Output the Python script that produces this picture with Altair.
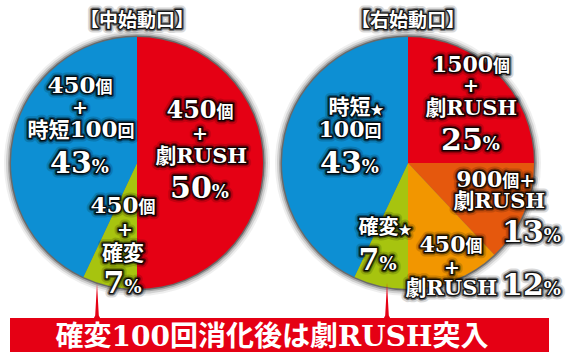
import altair as alt
import pandas as pd

# ---------------- data ----------------
titles = ["【中始動口】", "【右始動口】"]
left_names = ["450個+劇RUSH", "450個+確変", "450個+時短100回"]
left_values = [50, 7, 43]
right_names = ["1500個+劇RUSH", "900個+劇RUSH", "450個+劇RUSH", "確変★", "時短★100回"]
right_values = [25, 13, 12, 7, 43]
banner_text = "確変100回消化後は劇RUSH突入"

# ---------------- styles / layout ----------------
RED = "#e50014"
BLUE = "#0d8fd3"
GREEN = "#a7c40f"
ORANGE = "#f29600"
DKORANGE = "#e5580d"
left_colors = [RED, GREEN, BLUE]
right_colors = [RED, DKORANGE, ORANGE, GREEN, BLUE]
FONT = "DejaVu Serif, Noto Sans CJK JP"
R = 126
LCX, LCY = 137, 163
RCX, RCY = 408, 163

W, H = 569, 352


def pie_df(names, values):
    return pd.DataFrame({"name": names, "value": values, "order": list(range(len(names)))})


def pie_layers(names, values, colors, cx, cy):
    df = pie_df(names, values)
    base = alt.Chart(df)
    layers = []
    for extra, op in [(7, 0.07), (5, 0.14), (3, 0.25), (1.5, 0.45)]:
        layers.append(
            base.mark_arc(radius=R + extra, color="#222222", opacity=op).encode(
                theta=alt.Theta("value:Q", stack=True),
                order=alt.Order("order:Q"),
                x=alt.value(cx), y=alt.value(cy),
            )
        )
    layers.append(
        base.mark_arc(radius=R).encode(
            theta=alt.Theta("value:Q", stack=True),
            order=alt.Order("order:Q"),
            color=alt.Color("name:N", scale=alt.Scale(domain=names, range=colors), legend=None),
            x=alt.value(cx), y=alt.value(cy),
        )
    )
    return layers


# character width estimates (em) for centering text segments
CW = {"%": 1.002, "+": 0.838, " ": 0.348, "R": 0.786, "U": 0.812, "S": 0.718, "H": 0.934, "★": 0.84}


def seg_width(t, s):
    w = 0
    for ch in t:
        if ch.isdigit():
            w += 0.696
        else:
            w += CW.get(ch, 1.0)
    return w * s


rows = []


def line(cx, base, segs):
    total = sum(seg_width(t, s) for t, s in segs)
    x = cx - total / 2
    for t, s in segs:
        rows.append({"text": t, "x": x, "y": base, "size": s})
        x += seg_width(t, s)


def pct(v):
    return str(v)


# titles
line(LCX, 27, [(titles[0], 19)])
line(RCX, 27, [(titles[1], 19)])

# left pie labels
line(80, 93, [("450", 23), ("個", 17)])
line(80, 114, [("+", 19)])
line(81, 137, [("時短", 21), ("100", 23), ("回", 17)])
line(80, 173, [(pct(left_values[2]), 30), ("%", 18)])

line(200, 118, [("450", 24), ("個", 17)])
line(200, 140, [("+", 19)])
line(200, 163, [("劇RUSH", 21)])
line(200, 198, [(pct(left_values[0]), 30), ("%", 18)])

line(123, 213, [("450", 23), ("個", 17)])
line(125, 236, [("+", 19)])
line(123, 260, [("確変", 21)])
line(123, 293, [(pct(left_values[1]), 30), ("%", 18)])

# right pie labels
line(471, 72, [("1500", 22), ("個", 17)])
line(471, 92, [("+", 19)])
line(470, 115, [("劇RUSH", 21)])
line(471, 150, [(pct(right_values[0]), 30), ("%", 18)])

line(355, 114, [("時短", 21), ("★", 13)])
line(350, 137, [("100", 22), ("回", 17)])
line(350, 173, [(pct(right_values[4]), 30), ("%", 18)])

line(499, 187, [("900", 22), ("個", 17), (" +", 19)])
line(498, 208, [("劇RUSH", 21)])
line(532, 242, [(pct(right_values[1]), 30), ("%", 18)])

line(451, 252, [("450", 22), ("個", 17)])
line(452, 274, [("+", 19)])
line(450, 295, [("劇RUSH", 21)])
line(532, 295, [(pct(right_values[2]), 30), ("%", 18)])

line(384, 234, [("確変", 20), ("★", 13)])
line(378, 270, [(pct(right_values[3]), 30), ("%", 18)])

labels = pd.DataFrame(rows)
lab = alt.Chart(labels)
enc = dict(
    x=alt.X("x:Q", scale=None, axis=None),
    y=alt.Y("y:Q", scale=None, axis=None),
    text="text:N",
    size=alt.Size("size:Q", scale=None, legend=None),
)
glow1 = lab.mark_text(align="left", baseline="alphabetic", font=FONT, fontWeight="bold",
                      color="black", stroke="black", strokeWidth=9, strokeJoin="round",
                      opacity=0.15).encode(**enc)
glow2 = lab.mark_text(align="left", baseline="alphabetic", font=FONT, fontWeight="bold",
                      color="black", stroke="black", strokeWidth=5, strokeJoin="round",
                      opacity=0.45).encode(**enc)
glow3 = lab.mark_text(align="left", baseline="alphabetic", font=FONT, fontWeight="bold",
                      color="black", stroke="black", strokeWidth=2.5, strokeJoin="round",
                      opacity=0.85).encode(**enc)
white = lab.mark_text(align="left", baseline="alphabetic", font=FONT, fontWeight="bold",
                      color="white").encode(**enc)

# banner
one = alt.Chart(pd.DataFrame({"t": [banner_text]}))
banner = one.mark_rect(color=RED).encode(
    x=alt.value(10), x2=alt.value(549), y=alt.value(318), y2=alt.value(352)
)
banner_label = one.mark_text(align="center", baseline="alphabetic", font=FONT,
                             fontWeight="bold", fontSize=28, color="white").encode(
    x=alt.value(272), y=alt.value(346), text="t:N"
)
spike_shape = "M0,-1L0.1,0.8L0.2,1L-0.2,1L-0.1,0.8Z"
spikes = one.mark_point(shape=spike_shape, filled=True, color=RED, opacity=1,
                        size=1300, strokeWidth=0)
spike_l = spikes.encode(x=alt.value(97), y=alt.value(301))
spike_r = spikes.encode(x=alt.value(387), y=alt.value(301))

layers = (
    pie_layers(left_names, left_values, left_colors, LCX, LCY)
    + pie_layers(right_names, right_values, right_colors, RCX, RCY)
    + [spike_l, spike_r, banner, banner_label, glow1, glow2, glow3, white]
)

chart = (
    alt.layer(*layers)
    .resolve_scale(theta="independent", color="independent")
    .properties(width=W, height=H, padding=0, autosize=alt.AutoSizeParams(type="none"),
                background="white")
    .configure_view(stroke=None)
)

chart.save("out.html", embed_options={"renderer": "svg", "actions": False})
